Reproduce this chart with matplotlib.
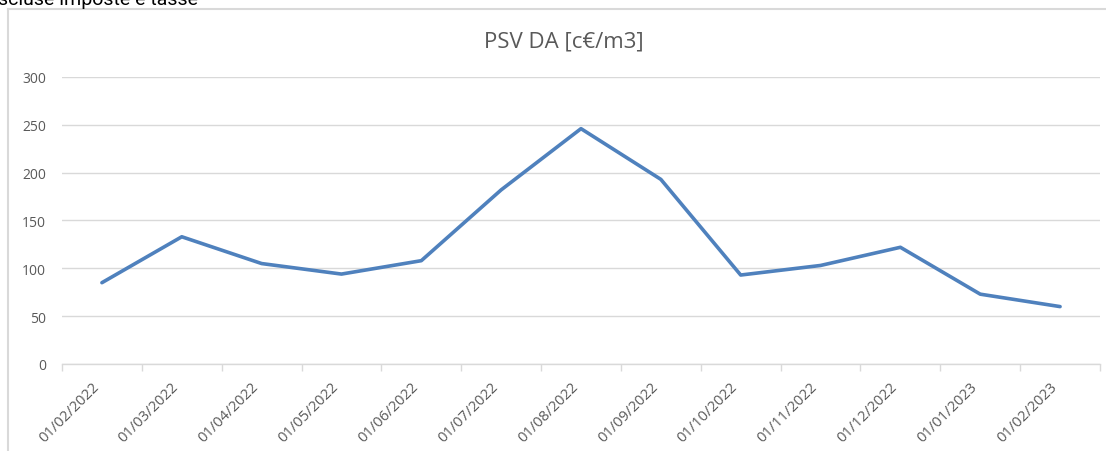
import matplotlib
matplotlib.use("Agg")
import matplotlib.pyplot as plt
from matplotlib.lines import Line2D
import numpy as np

dates = ["01/02/2022", "01/03/2022", "01/04/2022", "01/05/2022", "01/06/2022",
         "01/07/2022", "01/08/2022", "01/09/2022", "01/10/2022", "01/11/2022",
         "01/12/2022", "01/01/2023", "01/02/2023"]
psv_da = [85, 133, 105, 94, 108, 182, 246, 193, 93, 103, 122, 73, 60]
y_ticks = [0, 50, 100, 150, 200, 250, 300]
title = "PSV DA [c€/m3]"
note = "Escluse imposte e tasse"

W, H = 1106, 452
fig = plt.figure(figsize=(W / 100, H / 100), dpi=100)
fig.patch.set_facecolor("white")

# outer chart border (left and top visible)
fig.add_artist(Line2D([8 / W, 8 / W], [0, 1 - 10 / H], transform=fig.transFigure,
                      color="#d9d9d9", lw=1.5))
fig.add_artist(Line2D([8 / W, 1], [1 - 10 / H, 1 - 10 / H], transform=fig.transFigure,
                      color="#d9d9d9", lw=1.5))

# cut-off note at top left
fig.text(-13 / W, 1 - 5 / H, note, fontsize=14, family="Roboto", color="black",
         ha="left", va="baseline")

left, right = 62 / W, 1100 / W
bottom, top = 1 - 365 / H, 1 - 78 / H
ax = fig.add_axes([left, bottom, right - left, top - bottom])

x = np.arange(len(dates))
ax.plot(x, psv_da, color="#4f81bd", lw=2.6, solid_capstyle="round",
        solid_joinstyle="round", zorder=3)

ax.set_xlim(-0.5, len(dates) - 0.5)
ax.set_ylim(0, 300)
ax.set_yticks(y_ticks)
ax.set_yticklabels([str(v) for v in y_ticks], family="Open Sans")
ax.grid(axis="y", color="#d9d9d9", lw=1)
ax.set_axisbelow(True)

for s in ["top", "right", "left"]:
    ax.spines[s].set_visible(False)
ax.spines["bottom"].set_color("#d9d9d9")
ax.spines["bottom"].set_linewidth(1)

ax.tick_params(axis="y", length=0, pad=11.5, labelsize=10, labelcolor="#595959")

ax.set_xticks(np.arange(-0.5, len(dates), 1.0))
ax.set_xticklabels([])
ax.tick_params(axis="x", which="major", length=5, color="#d9d9d9", width=1)
ax.set_xticks(x, minor=True)
ax.set_xticklabels(dates, minor=True, rotation=45, ha="right",
                   fontsize=10.6, color="#595959", family="Open Sans")
ax.tick_params(axis="x", which="minor", length=0, pad=11)

fig.text(564 / W, 1 - 48 / H, title, fontsize=16, color="#595959",
         family="Open Sans", ha="center", va="baseline")

fig.savefig("out.png", dpi=100, facecolor="white")
